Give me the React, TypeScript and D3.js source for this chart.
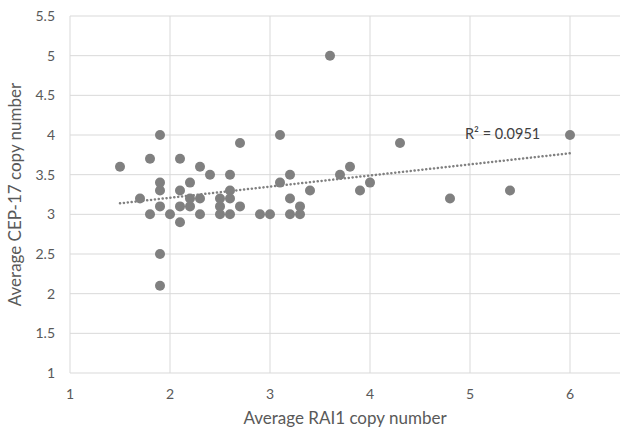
import * as d3 from "d3";

// RAI1 copy number (x) vs CEP-17 copy number (y)
const raiValues = [
  1.9, 2.7, 3.1, 1.5, 1.8, 2.1, 2.3, 2.4, 2.6, 1.9,
  2.2, 1.9, 2.1, 2.6, 1.7, 2.2, 2.3, 2.5, 2.6, 1.9,
  2.1, 2.2, 2.5, 2.7, 1.8, 2.0, 2.3, 2.5, 2.6, 2.1,
  1.9, 1.9, 2.9, 3.0, 3.2, 3.1, 3.2, 3.2, 3.3, 3.6,
  4.3, 3.8, 3.7, 3.4, 3.9, 4.0, 3.3, 4.8, 5.4, 6.0,
];
const cepValues = [
  4.0, 3.9, 4.0, 3.6, 3.7, 3.7, 3.6, 3.5, 3.5, 3.4,
  3.4, 3.3, 3.3, 3.3, 3.2, 3.2, 3.2, 3.2, 3.2, 3.1,
  3.1, 3.1, 3.1, 3.1, 3.0, 3.0, 3.0, 3.0, 3.0, 2.9,
  2.5, 2.1, 3.0, 3.0, 3.0, 3.4, 3.5, 3.2, 3.1, 5.0,
  3.9, 3.6, 3.5, 3.3, 3.3, 3.4, 3.0, 3.2, 3.3, 4.0,
];
const xTicks = [1, 2, 3, 4, 5, 6];
const yTicks = [1, 1.5, 2, 2.5, 3, 3.5, 4, 4.5, 5, 5.5];
const rSquaredLabel = "R² = 0.0951";

const width = 624;
const height = 431;
const margin = { left: 70, right: 4, top: 16, bottom: 58 };
const font = "Lato, 'Open Sans', sans-serif";

const App = () => {
  const x = d3.scaleLinear().domain([1, 6.5]).range([margin.left, width - margin.right]);
  const y = d3.scaleLinear().domain([1, 5.5]).range([height - margin.bottom, margin.top]);

  const points = raiValues.map((v, i) => ({ rai: v, cep: cepValues[i] }));

  // least squares trendline
  const mx = d3.mean(raiValues) as number;
  const my = d3.mean(cepValues) as number;
  const sxy = d3.sum(points, (p) => (p.rai - mx) * (p.cep - my));
  const sxx = d3.sum(points, (p) => (p.rai - mx) ** 2);
  const slope = sxy / sxx;
  const icpt = my - slope * mx;
  const [xMin, xMax] = d3.extent(raiValues) as [number, number];
  const trend = d3.line<number>().x((d) => x(d)).y((d) => y(icpt + slope * d));

  return (
    <svg width={width} height={height} style={{ position: "absolute", left: 0, top: 0 }}>
      <rect width={width} height={height} fill="#fff" />
      {yTicks.map((t) => (
        <g key={"y" + t}>
          <line x1={x(1)} x2={x(6.5)} y1={y(t)} y2={y(t)} stroke="#d9d9d9" strokeWidth={1} />
          <text x={55} y={y(t)} dy="0.36em" textAnchor="end" fontSize={14} fill="#595959" fontFamily={font}>
            {t}
          </text>
        </g>
      ))}
      {xTicks.map((t) => (
        <g key={"x" + t}>
          <line x1={x(t)} x2={x(t)} y1={y(1)} y2={y(5.5)} stroke="#d9d9d9" strokeWidth={1} />
          <text x={x(t)} y={y(1) + 26} textAnchor="middle" fontSize={14} fill="#595959" fontFamily={font}>
            {t}
          </text>
        </g>
      ))}
      {points.map((p, i) => (
        <circle key={i} cx={x(p.rai)} cy={y(p.cep)} r={5} fill="#808080" />
      ))}
      <path
        d={trend([xMin, xMax]) as string}
        fill="none"
        stroke="#808080"
        strokeWidth={2.5}
        strokeDasharray="0.1,3.8"
        strokeLinecap="round"
      />
      <text x={465} y={139} fontSize={14.5} fill="#404040" fontFamily={font}>
        {rSquaredLabel}
      </text>
      <text x={345} y={424} textAnchor="middle" fontSize={17} fill="#595959" fontFamily={font}>
        Average RAI1 copy number
      </text>
      <text
        transform={`translate(21,${(y(1) + y(5.5)) / 2}) rotate(-90)`}
        textAnchor="middle"
        fontSize={17}
        fill="#595959"
        fontFamily={font}
      >
        Average CEP-17 copy number
      </text>
    </svg>
  );
};

export default App;
